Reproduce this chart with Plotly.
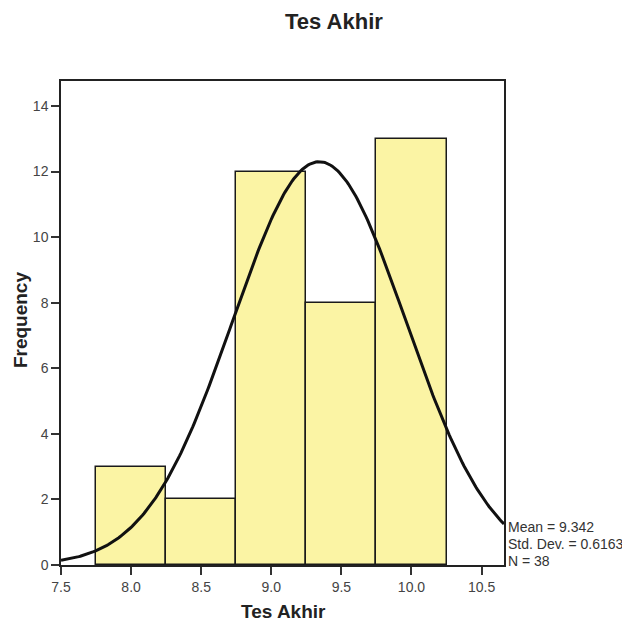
import numpy as np
import plotly.graph_objects as go

bin_centers = [8.0, 8.5, 9.0, 9.5, 10.0]
frequencies = [3, 2, 12, 8, 13]
bin_width = 0.5
MEAN = 9.342
SD = 0.6163
N = 38
x_ticks = [7.5, 8.0, 8.5, 9.0, 9.5, 10.0, 10.5]
y_ticks = [0, 2, 4, 6, 8, 10, 12, 14]
stat_lines = [f"Mean = {MEAN}", f"Std. Dev. = {SD}", f"N = {N}"]

XMIN, XMAX = 7.5, 10.66
xs = np.linspace(XMIN, XMAX, 300)
ys = N * bin_width / (SD * np.sqrt(2 * np.pi)) * np.exp(-0.5 * ((xs - MEAN) / SD) ** 2)

fig = go.Figure()
fig.add_trace(go.Bar(
    x=bin_centers, y=frequencies, width=bin_width,
    marker=dict(color="#FBF4A4", line=dict(color="#1a1a1a", width=1.5)),
    showlegend=False,
))
fig.add_trace(go.Scatter(
    x=xs, y=ys, mode="lines", line=dict(color="#111111", width=3),
    showlegend=False, cliponaxis=True,
))

font = "Liberation Sans, Arial, sans-serif"
annotations = [
    dict(xref="paper", yref="paper", x=0.503, y=0, xanchor="center", yanchor="middle",
         yshift=-46, showarrow=False, text="<b>Tes Akhir</b>",
         font=dict(size=19, color="#222222", family=font)),
    dict(xref="paper", yref="paper", x=0, y=0.506, xanchor="center", yanchor="middle",
         xshift=-41, textangle=-90, showarrow=False, text="<b>Frequency</b>",
         font=dict(size=19, color="#222222", family=font)),
]
for i, line in enumerate(stat_lines):
    annotations.append(dict(
        xref="paper", yref="paper", x=1.0, y=0, xanchor="left", yanchor="middle",
        xshift=2, yshift=38 - 17 * i, showarrow=False, align="left", text=line,
        font=dict(size=14, color="#333333", family=font),
    ))

fig.update_layout(
    width=622, height=613,
    margin=dict(l=53, r=126, t=73, b=56),
    paper_bgcolor="white", plot_bgcolor="white",
    font=dict(family=font, color="#444444", size=14),
    title=dict(text="<b>Tes Akhir</b>", x=0.524, xanchor="center", y=0.979, yanchor="middle",
               font=dict(size=22, color="#222222")),
    bargap=0,
    xaxis=dict(range=[XMIN, XMAX], tickvals=x_ticks, ticktext=[f"{v:.1f}" for v in x_ticks],
               ticks="outside", ticklen=8, tickwidth=1.5, tickcolor="#333333",
               showline=True, linecolor="#222222", linewidth=1.5, mirror=True,
               showgrid=False, zeroline=False, automargin=False),
    yaxis=dict(range=[0, 14.76], tickvals=y_ticks,
               ticks="outside", ticklen=8, tickwidth=1.5, tickcolor="#333333",
               showline=True, linecolor="#222222", linewidth=1.5, mirror=True,
               showgrid=False, zeroline=False, automargin=False),
    annotations=annotations,
)

fig.write_html("out.html")
